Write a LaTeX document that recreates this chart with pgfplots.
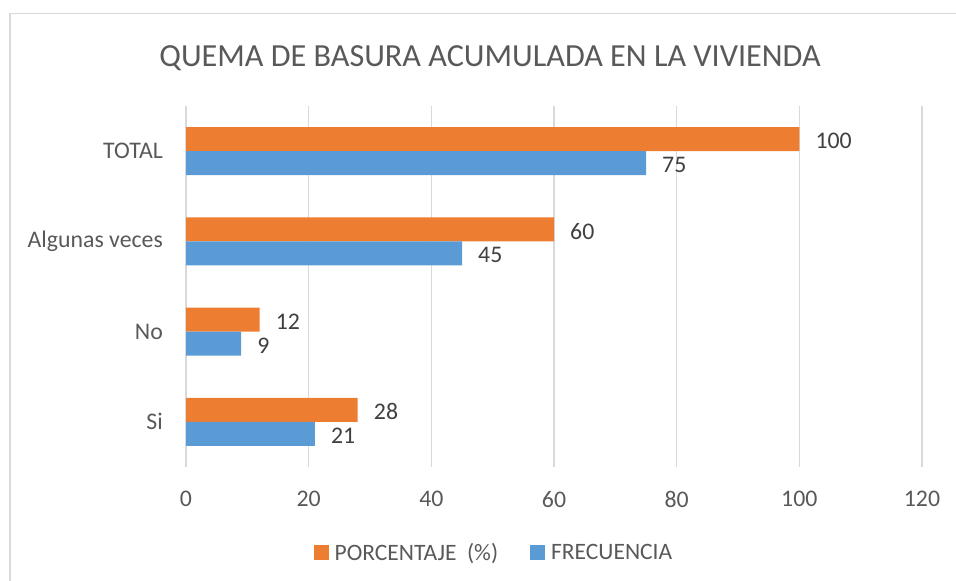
\documentclass[border=0pt]{standalone}
\usepackage{fontspec}
\setmainfont{Carlito}
\usepackage{pgfplots}
\pgfplotsset{compat=1.18}
\definecolor{orng}{HTML}{ED7D31}
\definecolor{blu}{HTML}{5B9BD5}
\definecolor{gridc}{HTML}{D9D9D9}
\definecolor{txt}{HTML}{595959}
\definecolor{lbl}{HTML}{404040}
\begin{document}
\begin{tikzpicture}
\useasboundingbox (0,0) rectangle (956bp,581bp);
\draw[gridc, line width=1.5bp] (10bp,0) -- (10bp,567.5bp) -- (956bp,567.5bp);
\node[text=txt, font=\fontsize{32.2bp}{37bp}\selectfont, inner sep=0] at (490bp,523bp) {QUEMA DE BASURA ACUMULADA EN LA VIVIENDA};
\begin{axis}[
  at={(186bp,114bp)}, anchor=south west,
  scale only axis, width=736bp, height=361bp,
  xmin=0, xmax=120, ymin=-0.5, ymax=3.5,
  xtick={0,20,...,120},
  ytick={0,1,2,3},
  yticklabels={Si,No,Algunas veces,TOTAL},
  /pgf/number format/assume math mode=true,
  axis line style={draw=none},
  major tick length=0pt,
  xmajorgrids,
  grid style={gridc, line width=1.2bp},
  tick label style={text=txt, font=\fontsize{23.8bp}{28bp}\selectfont, inner sep=0pt},
  xticklabel style={yshift=-24bp},
  yticklabel style={xshift=-23bp},
  xbar,
  bar width=24bp,
  nodes near coords,
  every node near coord/.append style={anchor=west, inner sep=0pt, xshift=16bp, yshift=-2bp, text=lbl, font=\fontsize{23.8bp}{28bp}\selectfont},
  legend style={at={(0.417,-0.236)}, anchor=center, draw=none, fill=none,
    legend columns=2, inner sep=0pt,
    nodes={inner sep=0pt, text=txt, font=\fontsize{23.5bp}{28bp}\selectfont},
    /tikz/every odd column/.append style={column sep=6bp},
    /tikz/every even column/.append style={column sep=32bp}},
  legend cell align=left,
]
\addplot[fill=orng, draw=none, bar shift=12bp,
  legend image code/.code={\fill[orng] (0bp,-7.5bp) rectangle (15bp,7.5bp);}]
  coordinates {(28,0) (12,1) (60,2) (100,3)};
\addlegendentry{PORCENTAJE\ \ (\%)}
\addplot[fill=blu, draw=none, bar shift=-12bp,
  legend image code/.code={\fill[blu] (0bp,-7.5bp) rectangle (15bp,7.5bp);}]
  coordinates {(21,0) (9,1) (45,2) (75,3)};
\addlegendentry{FRECUENCIA}
\end{axis}
\end{tikzpicture}
\end{document}
